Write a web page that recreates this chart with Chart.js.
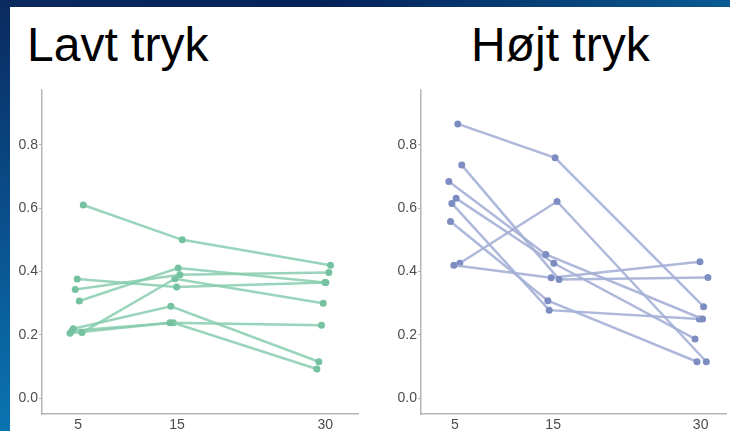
<!DOCTYPE html>
<html>
<head>
<meta charset="utf-8">
<script src="https://cdn.jsdelivr.net/npm/chart.js@4"></script>
<style>
  html, body { margin: 0; padding: 0; }
  body { width: 730px; height: 431px; position: relative; overflow: hidden; background: #ffffff; font-family: "Liberation Sans", Arial, sans-serif; }
  #topband { position: absolute; left: 0; top: 0; width: 730px; height: 7px; background: linear-gradient(to right, #0a2a5e 0%, #05215a 45%, #0a5a92 100%); }
  #leftband { position: absolute; left: 0; top: 0; width: 10px; height: 431px; background: linear-gradient(to bottom, #0a2a5e 0%, #0a4f8c 50%, #0a74b0 100%); }
  .ttl { position: absolute; top: 21px; font-size: 48px; line-height: 48px; color: #000; white-space: nowrap; }
  canvas { position: absolute; }
</style>
</head>
<body>
<div id="topband"></div>
<div id="leftband"></div>
<div class="ttl" id="t1" style="left:27px;">Lavt tryk</div>
<div class="ttl" id="t2" style="left:471px;">Højt tryk</div>
<canvas id="c1" width="365" height="351" style="left:0px;top:80px;width:365px;height:351px;"></canvas>
<canvas id="c2" width="350" height="351" style="left:380px;top:80px;width:350px;height:351px;"></canvas>
<script>
// ---- data ----
const xTicks = [5, 15, 30];
const yTicks = [0, 0.2, 0.4, 0.6, 0.8];

// Lavt tryk (x values are jittered around 5, 15, 30)
const lowX = [
  [5.52, 15.53, 30.52],
  [4.91, 14.96, 30.05],
  [4.71, 15.29, 30.35],
  [5.12, 15.12, 29.95],
  [5.39, 14.79, 29.78],
  [4.51, 14.38, 29.34],
  [4.18, 14.28, 29.61],
  [4.38, 14.62, 29.14]
];
const lowY = [
  [0.61, 0.50, 0.42],
  [0.376, 0.351, 0.365],
  [0.343, 0.39, 0.397],
  [0.307, 0.411, 0.365],
  [0.207, 0.377, 0.30],
  [0.219, 0.29, 0.115],
  [0.205, 0.238, 0.23],
  [0.213, 0.238, 0.092]
];

// Højt tryk
const highX = [
  [5.3, 15.2, 30.3],
  [5.7, 15.6, 30.74],
  [4.39, 14.26, 30.2],
  [5.13, 15.07, 29.43],
  [4.7, 14.6, 29.87],
  [4.56, 14.46, 29.63],
  [4.9, 14.8, 29.93],
  [5.5, 15.4, 30.58]
];
const highY = [
  [0.866, 0.759, 0.289],
  [0.736, 0.375, 0.381],
  [0.684, 0.454, 0.25],
  [0.631, 0.426, 0.187],
  [0.615, 0.278, 0.25],
  [0.558, 0.308, 0.115],
  [0.42, 0.38, 0.431],
  [0.426, 0.621, 0.115]
];

function makeDatasets(xs, ys, lineColor, pointColor) {
  return xs.map((row, i) => ({
    data: row.map((x, j) => ({ x: x, y: ys[i][j] })),
    borderColor: lineColor,
    borderWidth: 2.5,
    pointRadius: 3.5,
    pointBorderWidth: 0,
    pointBackgroundColor: pointColor,
    pointHoverRadius: 3.5,
    tension: 0,
    fill: false
  }));
}

function makeChart(id, xs, ys, lineColor, pointColor, xmin, xmax, yAxisWidth, padRight) {
  return new Chart(document.getElementById(id), {
    type: 'line',
    data: { datasets: makeDatasets(xs, ys, lineColor, pointColor) },
    options: {
      responsive: false,
      animation: false,
      devicePixelRatio: 1,
      layout: { padding: { top: 5, right: padRight, left: 0, bottom: 0 } },
      plugins: { legend: { display: false }, tooltip: { enabled: false }, title: { display: false } },
      scales: {
        x: {
          type: 'linear',
          min: xmin, max: xmax,
          afterBuildTicks: (s) => { s.ticks = xTicks.map(v => ({ value: v })); },
          afterFit: (s) => { s.height = 17; },
          grid: { display: false, drawTicks: false },
          border: { display: true, color: '#b5b5b5', width: 1.5 },
          ticks: { padding: 3, color: '#4d4d4d', font: { family: 'Liberation Sans', size: 14 }, maxRotation: 0, autoSkip: false }
        },
        y: {
          min: -0.05, max: 0.975,
          afterBuildTicks: (s) => { s.ticks = yTicks.map(v => ({ value: v })); },
          afterFit: (s) => { s.width = yAxisWidth; },
          grid: { display: true, drawOnChartArea: false, drawTicks: true, tickLength: 3, color: '#b5b5b5' },
          border: { display: true, color: '#b5b5b5', width: 1.5 },
          ticks: { padding: 1, color: '#4d4d4d', font: { family: 'Liberation Sans', size: 14 },
                   callback: (v) => v.toFixed(1) }
        }
      }
    }
  });
}

makeChart('c1', lowX, lowY, 'rgba(135,205,175,0.85)', '#74c29f', 1.35, 33.3, 42, 7);
makeChart('c2', highX, highY, 'rgba(165,176,214,0.9)', '#7d8dc2', 1.56, 32.63, 41, 2);
</script>
</body>
</html>
